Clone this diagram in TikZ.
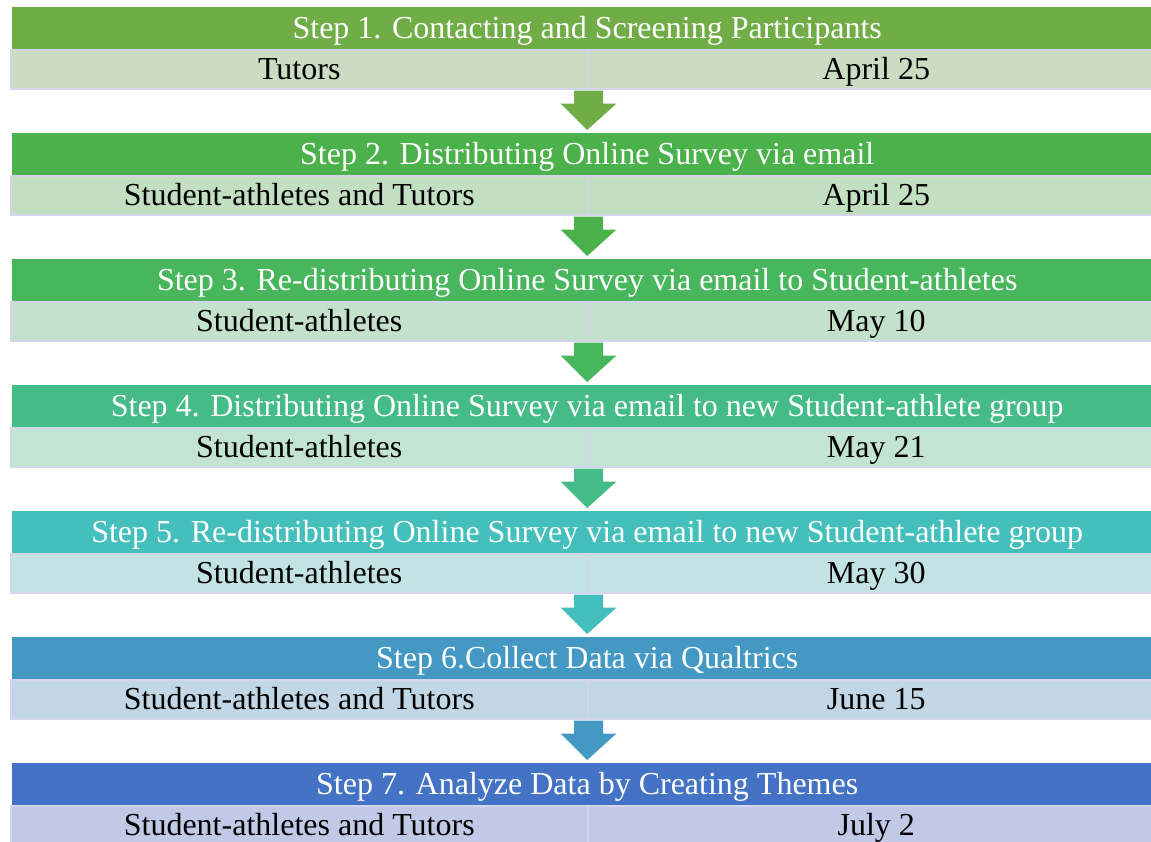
\documentclass[tikz,border=0pt]{standalone}
\usepackage{fontspec}
\setmainfont{Liberation Serif}
\usetikzlibrary{calc}

\definecolor{hA}{HTML}{70AD47}\definecolor{sA}{HTML}{CADDC3}
\definecolor{hB}{HTML}{4BB14A}\definecolor{sB}{HTML}{C3DFC1}
\definecolor{hC}{HTML}{47B65C}\definecolor{sC}{HTML}{C3E1CB}
\definecolor{hD}{HTML}{45BC88}\definecolor{sD}{HTML}{C3E3D5}
\definecolor{hE}{HTML}{44BFBB}\definecolor{sE}{HTML}{C2E2E3}
\definecolor{hF}{HTML}{4399C4}\definecolor{sF}{HTML}{C1D7E6}
\definecolor{hG}{HTML}{4472C4}\definecolor{sG}{HTML}{C0CAE6}
\definecolor{cellline}{HTML}{D3D6EA}

\tikzset{
  header/.style={anchor=north west, minimum width=1150pt, minimum height=42pt,
    inner sep=0pt, text=white, font=\fontsize{32}{32}\selectfont,
    text height=25.6pt, text depth=5.4pt},
  cell/.style={anchor=north west, minimum width=577pt, minimum height=39pt,
    inner sep=0pt, draw=cellline, line width=1.5pt, text=black,
    font=\fontsize{32}{32}\selectfont, text height=25.6pt, text depth=5.4pt},
}

\begin{document}
\begin{tikzpicture}[x=1pt,y=-1pt]
\useasboundingbox (0,0) rectangle (1151,841);
\foreach \i/\hc/\sc/\title/\who/\when in {
  1/hA/sA/{Step 1. Contacting and Screening Participants}/{Tutors}/{April 25},
  2/hB/sB/{Step 2. Distributing Online Survey via email}/{Student-athletes and Tutors}/{April 25},
  3/hC/sC/{Step 3. Re-distributing Online Survey via email to Student-athletes}/{Student-athletes}/{May 10},
  4/hD/sD/{Step 4. Distributing Online Survey via email to new Student-athlete group}/{Student-athletes}/{May 21},
  5/hE/sE/{Step 5. Re-distributing Online Survey via email to new Student-athlete group}/{Student-athletes}/{May 30},
  6/hF/sF/{Step 6.Collect Data via Qualtrics}/{Student-athletes and Tutors}/{June 15},
  7/hG/sG/{Step 7. Analyze Data by Creating Themes}/{Student-athletes and Tutors}/{July 2}} {
  \pgfmathsetmacro{\top}{7+126*(\i-1)}
  \node[header, fill=\hc] (h\i) at (12,\top) {\title};
  \node[cell, fill=\sc] (l\i) at (10,\top+42) {\who};
  \node[cell, fill=\sc] (r\i) at (587,\top+42) {\when};
}
% block arrows linking each step to the next
\foreach \i/\j/\c in {1/2/hA,2/3/hB,3/4/hC,4/5/hD,5/6/hE,6/7/hF} {
  \coordinate (a) at (l\i.south east);
  \coordinate (b) at (h\j.north);
  \fill[\c] ($(a)+(-14.5,1)$) -- ($(a)+(14.5,1)$) -- ($(a)+(14.5,14)$)
    -- ($(a)+(28,14)$) -- ($(b)+(0,-3)$) -- ($(a)+(-28,14)$)
    -- ($(a)+(-14.5,14)$) -- cycle;
}
\end{tikzpicture}
\end{document}
